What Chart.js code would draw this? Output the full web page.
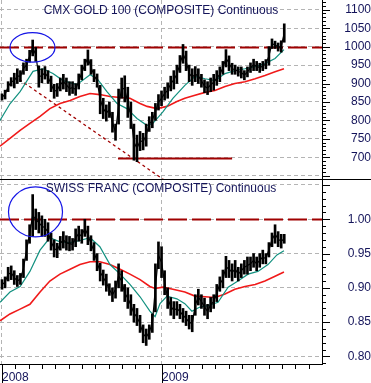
<!DOCTYPE html>
<html>
<head>
<meta charset="utf-8">
<script src="https://cdn.jsdelivr.net/npm/chart.js@4.4.1/dist/chart.umd.min.js"></script>
<style>
  html, body { margin: 0; padding: 0; background: #fff; }
  #wrap { position: relative; width: 371px; height: 383px; overflow: hidden; }
  canvas { position: absolute; left: 0; display: block; }
  #goldChart { top: 0; }
  #chfChart { top: 179px; }
</style>
</head>
<body>
<div id="wrap">
  <canvas id="goldChart" width="371" height="179"></canvas>
  <canvas id="chfChart" width="371" height="204"></canvas>
</div>
<script>
// weekly high/low ranges, index = week number from the start of 2008
const goldLow = [855, 858, 878, 893, 888, 900, 905, 925, 935, 958, 975, 960, 890, 902, 912, 900, 878, 860, 865, 880,
    885, 878, 868, 873, 868, 885, 910, 935, 950, 925, 905, 890, 818, 805, 798, 808, 768, 746, 790, 860,
    850, 808, 778, 692, 688, 718, 720, 730, 770, 780, 800, 828, 840, 855, 860, 880, 885, 900, 930, 955,
    935, 905, 895, 905, 900, 890, 875, 870, 878, 882, 895, 905, 925, 945, 935, 925, 925, 920, 915, 910,
    918, 930, 935, 935, 930, 935, 940, 950, 995, 995, 988, 985, 1012];
const goldHigh = [872, 882, 905, 916, 928, 940, 935, 956, 966, 990, 1018, 998, 948, 940, 946, 935, 920, 898, 900, 915,
    925, 915, 905, 905, 900, 926, 950, 966, 991, 965, 938, 926, 895, 860, 842, 850, 822, 790, 885, 915,
    921, 890, 850, 790, 760, 770, 765, 790, 810, 822, 846, 870, 880, 890, 902, 920, 935, 950, 976, 1006,
    988, 950, 940, 946, 940, 925, 910, 905, 915, 925, 935, 945, 960, 992, 975, 955, 950, 945, 945, 935,
    945, 956, 966, 960, 955, 960, 965, 1000, 1021, 1015, 1010, 1016, 1062];
const chfLow = [0.898, 0.900, 0.910, 0.912, 0.905, 0.902, 0.905, 0.915, 0.940, 0.965, 0.975, 0.985, 0.980, 0.975, 0.975, 0.968, 0.955, 0.945, 0.944, 0.955,
    0.958, 0.955, 0.954, 0.955, 0.960, 0.968, 0.965, 0.975, 0.963, 0.954, 0.940, 0.925, 0.910, 0.904, 0.895, 0.889, 0.880, 0.885, 0.900, 0.895,
    0.880, 0.870, 0.860, 0.850, 0.845, 0.835, 0.820, 0.816, 0.825, 0.835, 0.865, 0.928, 0.915, 0.890, 0.870, 0.860, 0.855, 0.860, 0.855, 0.850,
    0.845, 0.840, 0.836, 0.860, 0.875, 0.870, 0.860, 0.855, 0.865, 0.870, 0.880, 0.895, 0.900, 0.915, 0.915, 0.910, 0.915, 0.910, 0.915, 0.920,
    0.920, 0.925, 0.930, 0.925, 0.930, 0.935, 0.935, 0.945, 0.960, 0.965, 0.960, 0.958, 0.965];
const chfHigh = [0.912, 0.916, 0.930, 0.932, 0.925, 0.918, 0.921, 0.942, 0.970, 0.992, 1.036, 1.015, 1.010, 1.005, 1.000, 0.995, 0.980, 0.970, 0.965, 0.975,
    0.982, 0.976, 0.975, 0.972, 0.986, 0.990, 0.985, 1.000, 0.990, 0.976, 0.966, 0.950, 0.936, 0.926, 0.920, 0.906, 0.900, 0.910, 0.935, 0.925,
    0.905, 0.900, 0.890, 0.876, 0.870, 0.860, 0.846, 0.840, 0.846, 0.862, 0.935, 0.967, 0.960, 0.925, 0.900, 0.886, 0.880, 0.880, 0.876, 0.870,
    0.866, 0.860, 0.860, 0.890, 0.898, 0.890, 0.885, 0.876, 0.886, 0.890, 0.905, 0.916, 0.926, 0.946, 0.940, 0.935, 0.940, 0.930, 0.935, 0.940,
    0.945, 0.945, 0.950, 0.945, 0.950, 0.955, 0.950, 0.966, 0.980, 0.992, 0.982, 0.978, 0.978];

// moving averages as [week, value]
const goldMa50 = [[-0.65, 800], [2.6, 845], [5.9, 878], [10.1, 933], [13.4, 940], [16.6, 927], [19.9, 908], [24.4, 897],
    [28.7, 924], [31.0, 913], [34.2, 878], [37.5, 846], [40.7, 832], [44.0, 805], [47.3, 786], [49.2, 792], [52.5, 824],
    [55.7, 860], [59.6, 895], [62.9, 919], [66.2, 913], [69.4, 908], [72.7, 927], [75.9, 935], [79.2, 940], [82.5, 946],
    [85.7, 954], [89.0, 968], [91.9, 992]];
const goldMa200 = [[-0.65, 730], [2.6, 751], [5.9, 773], [9.1, 792], [12.4, 811], [15.6, 832], [18.9, 846], [22.2, 854],
    [25.4, 865], [28.7, 873], [31.9, 870], [35.2, 865], [38.5, 862], [41.7, 860], [45.0, 846], [47.3, 838], [50.5, 832],
    [53.8, 838], [57.0, 851], [59.6, 860], [62.9, 868], [66.2, 876], [69.4, 881], [72.7, 892], [75.9, 900], [79.2, 905],
    [82.5, 913], [85.7, 922], [89.0, 932], [91.9, 940]];
const chfMa50 = [[-0.65, 0.879], [2.6, 0.894], [5.9, 0.902], [9.1, 0.924], [12.4, 0.955], [15.6, 0.973], [18.9, 0.967],
    [22.2, 0.966], [25.4, 0.969], [28.7, 0.973], [31.9, 0.960], [35.2, 0.934], [38.5, 0.920], [41.7, 0.905], [45.0, 0.887],
    [48.2, 0.866], [49.9, 0.858], [51.5, 0.877], [53.8, 0.888], [57.0, 0.884], [59.6, 0.877], [61.9, 0.866], [64.5, 0.872],
    [67.1, 0.874], [70.4, 0.879], [73.7, 0.901], [76.9, 0.910], [80.2, 0.920], [83.4, 0.924], [86.7, 0.934], [89.6, 0.948],
    [91.9, 0.954]];
const chfMa200 = [[-0.65, 0.852], [2.6, 0.862], [5.9, 0.869], [9.1, 0.876], [12.4, 0.894], [15.6, 0.910], [18.9, 0.920],
    [22.2, 0.927], [25.4, 0.934], [28.7, 0.938], [31.9, 0.938], [35.2, 0.934], [38.5, 0.927], [41.7, 0.920], [45.0, 0.912],
    [48.2, 0.902], [49.9, 0.899], [52.5, 0.901], [55.7, 0.898], [59.6, 0.894], [62.9, 0.888], [66.2, 0.887], [69.4, 0.886],
    [72.7, 0.891], [75.9, 0.898], [79.2, 0.902], [82.5, 0.905], [85.7, 0.910], [89.0, 0.917], [91.9, 0.923]];

// axis ticks
const goldTicks = [650, 700, 750, 800, 850, 900, 950, 1000, 1050, 1100];
const chfTicks = [0.80, 0.85, 0.90, 0.95, 1.00, 1.05];
const yearLabels = ['2008', '2009'];
const yearWeeks = [0, 52.14];
const monthCount = 24;

// hand drawn marks, in data units
const goldLevel = 1000;
const goldFloor = { from: 37.8, to: 75, value: 697 };
const goldTrend = { x1: 5.65, y1: 911, x2: 56, y2: 620 };
const goldRing = { x: 9.94, y: 998, rx: 7.33, ry: 40 };
const chfLevel = 1.00;
const chfRing = { x: 10.92, y: 1.0107, rx: 8.8, ry: 0.0364 };

const navy = '#14145a';
const xMin = -0.65, xMax = 104.3;

const toXY = arr => arr.map(p => ({ x: p[0], y: p[1] }));

const extras = {
    id: 'extras',
    beforeDatasetsDraw(chart, args, o) {
        const { ctx, chartArea: a, scales: { x, y } } = chart;
        ctx.save();
        ctx.beginPath();
        ctx.rect(a.left, a.top, a.right - a.left, a.bottom - a.top);
        ctx.clip();
        ctx.strokeStyle = '#a00000';
        // dashed level line
        const ly = Math.round(y.getPixelForValue(o.level)) + 0.5;
        ctx.lineWidth = 2;
        ctx.setLineDash([19, 5]);
        ctx.beginPath();
        ctx.moveTo(a.left, ly);
        ctx.lineTo(a.right, ly);
        ctx.stroke();
        if (o.floor) {
            const fy = Math.round(y.getPixelForValue(o.floor.value)) + 0.5;
            ctx.setLineDash([]);
            ctx.beginPath();
            ctx.moveTo(x.getPixelForValue(o.floor.from), fy);
            ctx.lineTo(x.getPixelForValue(o.floor.to), fy);
            ctx.stroke();
        }
        if (o.trend) {
            ctx.lineWidth = 1.3;
            ctx.setLineDash([3, 3]);
            ctx.beginPath();
            ctx.moveTo(x.getPixelForValue(o.trend.x1), y.getPixelForValue(o.trend.y1));
            ctx.lineTo(x.getPixelForValue(o.trend.x2), y.getPixelForValue(o.trend.y2));
            ctx.stroke();
        }
        ctx.restore();
    },
    afterDraw(chart, args, o) {
        const { ctx, chartArea: a, scales: { x, y } } = chart;
        ctx.save();
        // ring
        const r = o.ring;
        const cx = x.getPixelForValue(r.x), cy = y.getPixelForValue(r.y);
        ctx.strokeStyle = '#1414e6';
        ctx.lineWidth = 1.2;
        ctx.beginPath();
        ctx.ellipse(cx, cy, x.getPixelForValue(r.x + r.rx) - cx, cy - y.getPixelForValue(r.y + r.ry), 0, 0, Math.PI * 2);
        ctx.stroke();
        // title
        ctx.fillStyle = navy;
        ctx.font = '12px Arial, "Liberation Sans", sans-serif';
        ctx.textAlign = 'center';
        ctx.textBaseline = 'middle';
        ctx.fillText(o.title, (a.left + a.right) / 2, a.top + o.titleY);
        // right axis tick marks
        ctx.strokeStyle = '#000';
        ctx.lineWidth = 1;
        const ratio = Math.round(o.major / o.minor);
        const k0 = Math.ceil(y.min / o.minor), k1 = Math.floor(y.max / o.minor);
        for (let k = k0; k <= k1; k++) {
            const py = Math.round(y.getPixelForValue(k * o.minor)) + 0.5;
            const len = k % ratio === 0 ? 8 : 4;
            ctx.beginPath();
            ctx.moveTo(a.right, py);
            ctx.lineTo(a.right + len, py);
            ctx.stroke();
        }
        // month ticks under the date axis
        if (o.months) {
            for (let m = 0; m < monthCount; m++) {
                const px = Math.round(x.getPixelForValue(m * 52.14 / 12)) + 0.5;
                ctx.beginPath();
                ctx.moveTo(px, a.bottom);
                ctx.lineTo(px, m % 12 === 0 ? chart.height : a.bottom + 5);
                ctx.stroke();
            }
        }
        if (o.topLine) {
            ctx.beginPath();
            ctx.moveTo(0, 0.5);
            ctx.lineTo(chart.width, 0.5);
            ctx.stroke();
        }
        ctx.restore();
    }
};

function noPad(s) {
    s.paddingTop = 0;
    s.paddingBottom = 0;
    s.paddingLeft = 0;
    s.paddingRight = 0;
}

function makePanel(id, cfg) {
    return new Chart(document.getElementById(id), {
        type: 'bar',
        data: {
            datasets: [
                {
                    data: cfg.low.map((lo, i) => ({ x: i, y: [lo, cfg.high[i]] })),
                    backgroundColor: '#000',
                    barThickness: 2,
                    order: 0
                },
                {
                    // thin trace joining the weekly ranges
                    type: 'line',
                    data: cfg.low.map((lo, i) => ({ x: i, y: (lo + cfg.high[i]) / 2 })),
                    borderColor: '#000',
                    borderWidth: 1.2,
                    pointRadius: 0,
                    order: 1
                },
                {
                    type: 'line',
                    data: toXY(cfg.ma50),
                    borderColor: '#11907f',
                    borderWidth: 1.2,
                    pointRadius: 0,
                    order: 2
                },
                {
                    type: 'line',
                    data: toXY(cfg.ma200),
                    borderColor: '#f01a1a',
                    borderWidth: 1.6,
                    pointRadius: 0,
                    order: 3
                }
            ]
        },
        options: {
            responsive: false,
            animation: false,
            devicePixelRatio: 1,
            layout: { padding: 0, autoPadding: false },
            plugins: {
                legend: { display: false },
                tooltip: { enabled: false },
                extras: cfg.extras
            },
            scales: {
                x: {
                    type: 'linear',
                    min: xMin,
                    max: xMax,
                    offset: false,
                    afterBuildTicks: s => { s.ticks = yearWeeks.map(v => ({ value: v })); },
                    afterFit: s => { s.height = cfg.showX ? 19 : 0; noPad(s); },
                    grid: { offset: false, color: '#b4b4b4', drawTicks: false },
                    border: { display: cfg.showX, color: '#000', dash: [4, 3] },
                    ticks: {
                        display: cfg.showX,
                        align: 'start',
                        padding: 6,
                        maxRotation: 0,
                        autoSkip: false,
                        color: navy,
                        font: { family: 'Arial, "Liberation Sans", sans-serif', size: 12 },
                        callback: (v, i) => yearLabels[i]
                    }
                },
                y: {
                    position: 'right',
                    min: cfg.yMin,
                    max: cfg.yMax,
                    afterBuildTicks: s => { s.ticks = cfg.ticks.map(v => ({ value: v })); },
                    afterFit: s => { s.width = 49; noPad(s); },
                    grid: { color: '#b4b4b4', drawTicks: false },
                    border: { color: '#000', dash: [4, 3] },
                    ticks: {
                        crossAlign: 'far',
                        padding: cfg.labelPad,
                        color: navy,
                        font: { family: 'Arial, "Liberation Sans", sans-serif', size: 12 },
                        callback: cfg.fmt
                    }
                }
            }
        },
        plugins: [extras]
    });
}

makePanel('goldChart', {
    low: goldLow, high: goldHigh, ma50: goldMa50, ma200: goldMa200,
    yMin: 641, yMax: 1126.6, ticks: goldTicks, labelPad: 19, showX: false,
    fmt: v => (v >= 700 ? String(v) : ''),
    extras: {
        title: 'CMX GOLD 100 (COMPOSITE) Continuous', titleY: 11,
        level: goldLevel, floor: goldFloor, trend: goldTrend, ring: goldRing,
        minor: 10, major: 50, months: false, topLine: false
    }
});

makePanel('chfChart', {
    low: chfLow, high: chfHigh, ma50: chfMa50, ma200: chfMa200,
    yMin: 0.789, yMax: 1.0587, ticks: chfTicks, labelPad: 22, showX: true,
    fmt: v => (v <= 1.001 ? v.toFixed(2) : ''),
    extras: {
        title: 'SWISS FRANC (COMPOSITE) Continuous', titleY: 9.5,
        level: chfLevel, ring: chfRing,
        minor: 0.01, major: 0.05, months: true, topLine: true
    }
});
</script>
</body>
</html>
